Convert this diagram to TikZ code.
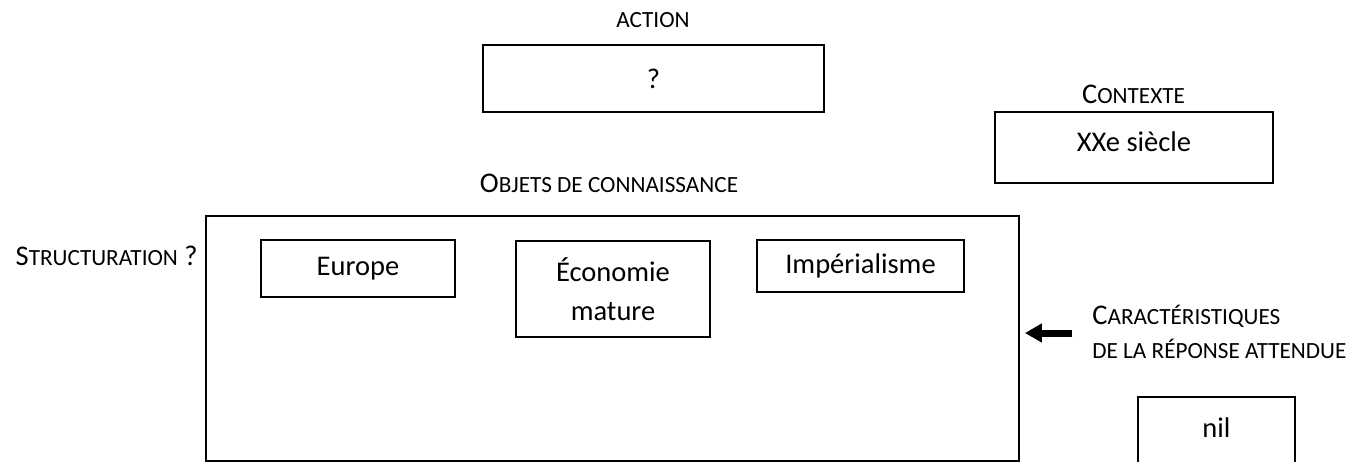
\documentclass[tikz,border=0pt]{standalone}
\usepackage{fontspec}
\setmainfont{Carlito}
\usepackage{tikz}
\usetikzlibrary{arrows.meta}

\newcommand{\petcap}[1]{{\fontsize{11.6}{14}\selectfont #1}}

\tikzset{
  boite/.style={draw, line width=0.9pt, inner sep=0pt, align=center},
  etiq/.style={inner sep=0pt, anchor=base},
}

\begin{document}
\begin{tikzpicture}[x=0.5pt, y=-0.5pt, font=\fontsize{14.25}{19.5}\selectfont]
        \useasboundingbox (0,0) rectangle (1359,462);
        \node [etiq] (lblaction) at (653,27) {\petcap{ACTION}};                              %
        \node [boite, minimum width=170.5pt, minimum height=33.5pt] (action) at (653.5,78.5) {?};

        \node [etiq] (lblcontexte) at (1133.5,103) {C\petcap{ONTEXTE}};                      %
        \node [boite, minimum width=139pt, minimum height=35.5pt, text depth=5.5pt] (contexte) at (1134,147.5) {XXe siècle};

        \node [etiq] (lblobjets) at (609,192) {O\petcap{BJETS DE CONNAISSANCE}};             %
        \node [boite, minimum width=406.5pt, minimum height=122.5pt] (objets) at (612.5,338.5) {};
        \node [etiq, anchor=base east] (lblstruct) at (198,265) {S\petcap{TRUCTURATION} ?}; %

        \node [boite, minimum width=97pt, minimum height=28.5pt] (europe) at (358,268.5) {Europe};              %
        \node [boite, minimum width=97pt, minimum height=48pt] (economie) at (613,289) {Économie\\mature};     %
        \node [boite, minimum width=103.5pt, minimum height=26pt] (imperialisme) at (860.5,266) {Impérialisme}; %

        \coordinate (queue) at (1072,333);
        \draw [line width=3.5pt, -{Triangle[length=8.5pt, width=9pt]}, shorten >=2.5pt] (queue) -- (objets.east |- queue); %
        \node [etiq, anchor=base west] (lblcarac) at (1092,324) {C\petcap{ARACTÉRISTIQUES}};  %
        \node [etiq, anchor=base west] (lblreponse) at (1092,358) {\petcap{DE LA RÉPONSE ATTENDUE}}; %

        \node (nil) at (1216.5,428) {nil};                                                     %
        \draw [line width=0.9pt] (1138,462) -- (1138,397) -- (1295,397) -- (1295,462);
\end{tikzpicture}
\end{document}
